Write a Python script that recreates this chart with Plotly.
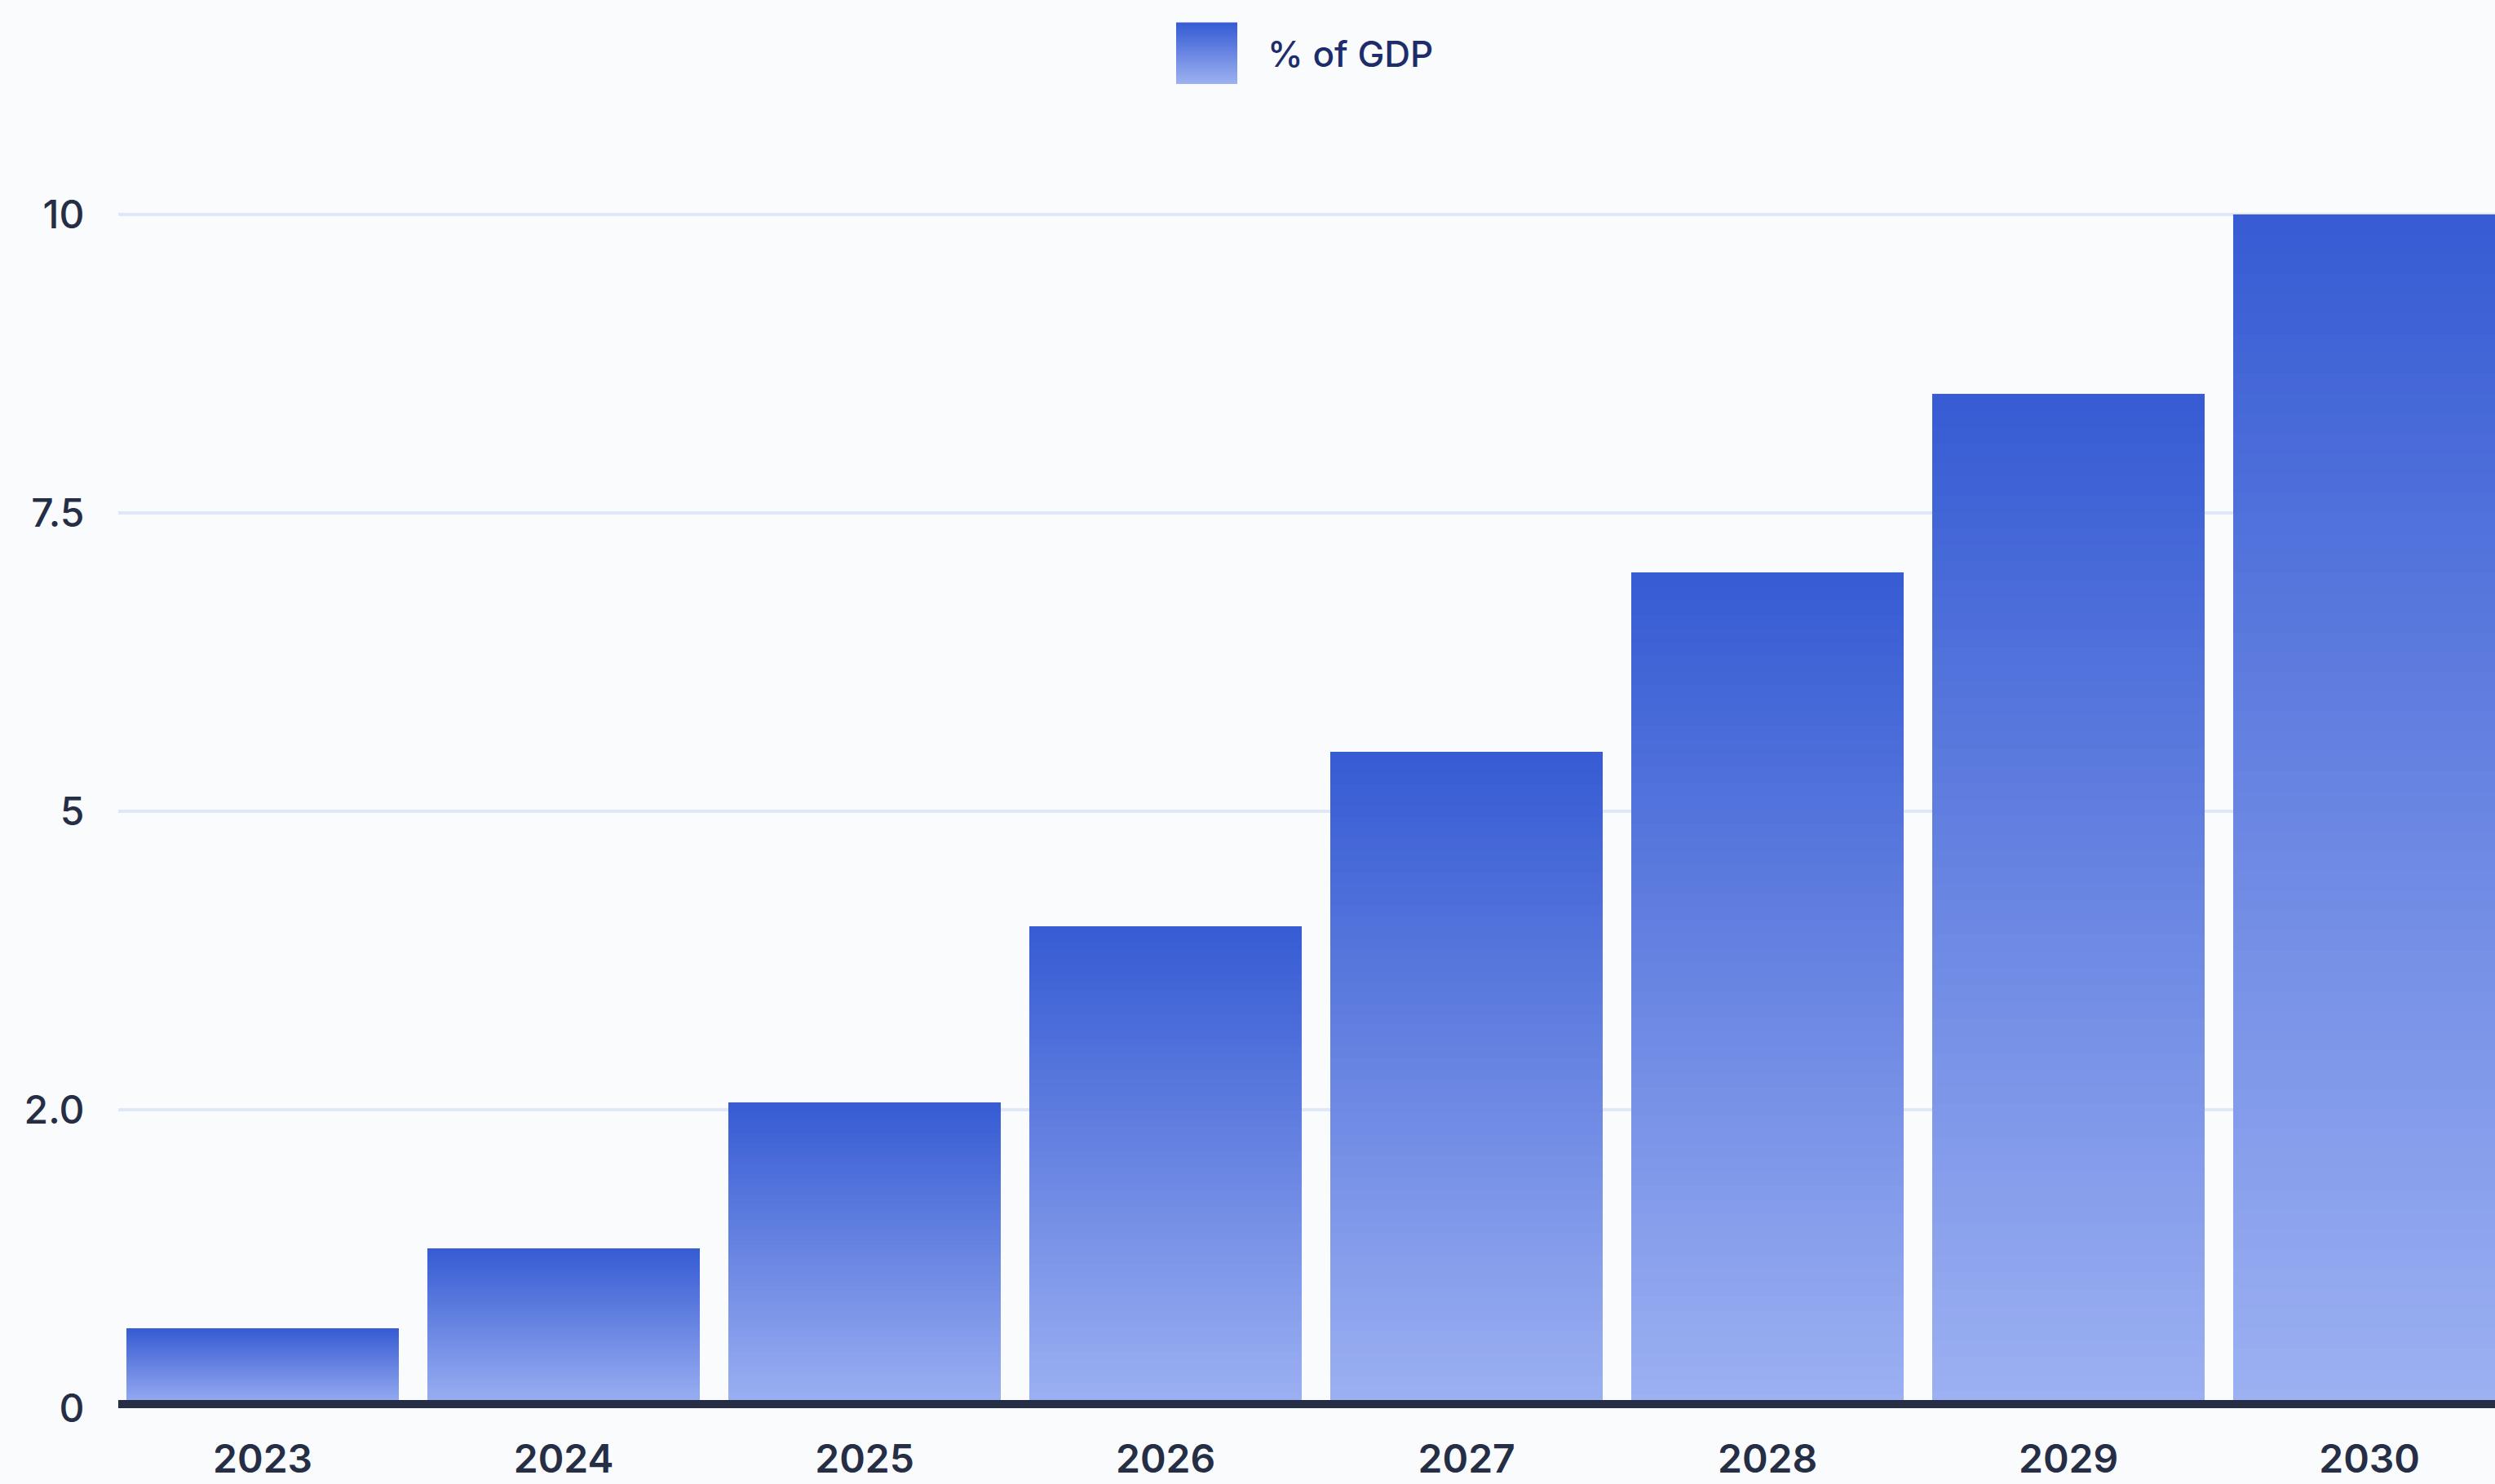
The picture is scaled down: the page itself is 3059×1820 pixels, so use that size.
import plotly.graph_objects as go

# ---- data ----
years = ["2023", "2024", "2025", "2026", "2027", "2028", "2029", "2030"]
gdp_share = [0.67, 1.34, 2.56, 4.04, 5.5, 7.0, 8.5, 10.0]
series_name = "% of GDP"
y_tickvals = [0, 2.5, 5, 7.5, 10]
y_ticktext = ["0", "2.0", "5", "7.5", "10"]

# ---- style ----
TOP = (54, 91, 211)
BOTTOM = (157, 177, 242)
N_SEG = 60
FONT = "Inter"
TEXT = "#252E45"
BG = "#FAFBFD"


def mix(t):
    r, g, b = (round(BOTTOM[i] + (TOP[i] - BOTTOM[i]) * t) for i in range(3))
    return f"rgb({r},{g},{b})"


fig = go.Figure()
# each bar drawn as a stack of thin slices so that every bar carries its own
# vertical gradient (dark at the top, light at the bottom)
for k in range(N_SEG):
    fig.add_trace(go.Bar(
        x=years,
        y=[v / N_SEG for v in gdp_share],
        name=series_name,
        marker=dict(color=mix((k + 0.5) / N_SEG), line=dict(width=0)),
        showlegend=False,
        hoverinfo="skip" if k else None,
        customdata=gdp_share,
        hovertemplate="%{x}: %{customdata}<extra>" + series_name + "</extra>",
    ))

# dark baseline on top of the bars
fig.add_shape(type="rect", xref="paper", x0=0, x1=1,
              yref="y", ysizemode="pixel", yanchor=0, y0=0, y1=10,
              fillcolor=TEXT, line=dict(width=0), layer="above")

# legend (gradient swatch + label)
N_LEG = 30
for k in range(N_LEG):
    y0 = 87 + 75 * k / N_LEG
    fig.add_shape(type="rect",
                  xref="paper", xsizemode="pixel", xanchor=0, x0=1297, x1=1372,
                  yref="paper", ysizemode="pixel", yanchor=1,
                  y0=y0, y1=y0 + 75 / N_LEG + 0.6,
                  fillcolor=mix((k + 0.5) / N_LEG), line=dict(width=0),
                  layer="above")
fig.add_annotation(text=series_name, xref="paper", yref="paper",
                   x=(1552 - 145) / 2914, y=1 + (190 - 66) / 1537,
                   xanchor="left", yanchor="middle", showarrow=False,
                   font=dict(family=FONT, size=44, color="#1D2C6B", weight=500))

fig.update_layout(
    width=3059, height=1820,
    margin=dict(l=145, r=0, t=190, b=93, pad=0, autoexpand=False),
    barmode="stack", bargap=0.095,
    paper_bgcolor=BG, plot_bgcolor=BG,
    showlegend=False,
    font=dict(family=FONT, color=TEXT),
    xaxis=dict(
        type="category", range=[-0.48, 7.417], automargin=False,
        showgrid=False, zeroline=False, showline=False,
        ticks="outside", ticklen=20, tickcolor="rgba(0,0,0,0)",
        tickfont=dict(family=FONT, size=48, color=TEXT, weight=600),
        fixedrange=True,
    ),
    yaxis=dict(
        range=[0, 10.5], automargin=False,
        tickvals=y_tickvals, ticktext=y_ticktext,
        showgrid=True, gridcolor="#E0E7F8", gridwidth=4,
        zeroline=False, showline=False,
        ticks="outside", ticklen=31, tickcolor="rgba(0,0,0,0)",
        tickfont=dict(family=FONT, size=48, color=TEXT, weight=500),
        fixedrange=True,
    ),
)

fig.write_html(
    "out.html",
    config={"displayModeBar": False},
    post_script="document.body.style.margin='0';"
                "document.body.style.background='" + BG + "';"
                "document.body.style.overflow='hidden';",
)
